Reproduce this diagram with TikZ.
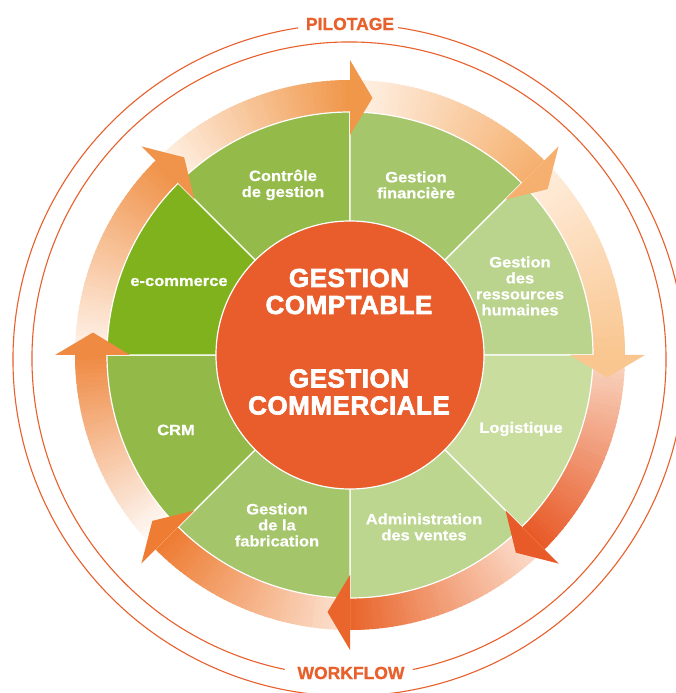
\documentclass[tikz,border=0pt]{standalone}
\usepackage{fontspec}
\setmainfont{Liberation Sans}
\newfontfamily\labfont{Liberation Sans}[FakeStretch=1.1,FakeBold=0.8]
\newfontfamily\bigfont{Liberation Sans}[FakeBold=2.5,LetterSpace=2]
\newfontfamily\titfont{Liberation Sans}[FakeBold=1]
\definecolor{ringc}{HTML}{E8602C}
\definecolor{cContr}{HTML}{94BA4A}
\definecolor{cFin}{HTML}{A6C66C}
\definecolor{cGRH}{HTML}{BAD48E}
\definecolor{cLog}{HTML}{C9DD9E}
\definecolor{cAdm}{HTML}{BCD58F}
\definecolor{cFab}{HTML}{A5C56A}
\definecolor{cCRM}{HTML}{93BA48}
\definecolor{cEcom}{HTML}{80B21E}
\definecolor{cCentre}{HTML}{E95C2B}
\definecolor{hA}{HTML}{F0974A}\definecolor{tA}{HTML}{FFF3E8}
\definecolor{hB}{HTML}{F5B06F}\definecolor{tB}{HTML}{FFF3E8}
\definecolor{hC}{HTML}{F9C690}\definecolor{tC}{HTML}{FFEEDD}
\definecolor{hD}{HTML}{E85A28}\definecolor{tD}{HTML}{F9D6C2}
\definecolor{hE}{HTML}{E9652C}\definecolor{tE}{HTML}{FCE0CF}
\definecolor{hF}{HTML}{EE7C33}\definecolor{tF}{HTML}{FCE3D3}
\definecolor{hG}{HTML}{EF8A43}\definecolor{tG}{HTML}{FFFFFF}
\definecolor{hH}{HTML}{F0934B}\definecolor{tH}{HTML}{FFF4EC}
\tikzset{
  ring/.style={draw=ringc, line width=1.1pt},
  sector/.style={draw=white, line width=1.2pt},
  lab/.style={text=white, align=center, inner sep=0pt, font=\labfont\bfseries\fontsize{15}{16}\selectfont},
  big/.style={text=white, align=center, inner sep=0pt, font=\bigfont\bfseries\fontsize{26}{27}\selectfont},
  title/.style={text=ringc, inner sep=0pt, font=\titfont\bfseries\fontsize{17.5}{18}\selectfont}
}
\begin{document}
\begin{tikzpicture}[x=1pt,y=1pt]
\useasboundingbox (-350,-338) rectangle (326,355);
\fill[white] (-350,-338) rectangle (326,355);
\clip (-350,-338) rectangle (326,355);
% outer rings
\draw[ring] (-1,-5) ++(98.7:336) arc[start angle=98.7,end angle=441.6,radius=336];
\draw[ring] (-1,-4) ++(281.6:317) arc[start angle=281.6,end angle=618.3,radius=317];
% gradient bands
\foreach \h/\hc/\tc in {90/hA/tA,45/hB/tB,0/hC/tC,-45/hD/tD,-90/hE/tE,-135/hF/tF,180/hG/tG,135/hH/tH}{
  \foreach \k in {0,...,44}{
    \pgfmathsetmacro\a{\h+45-\k}
    \pgfmathsetmacro\b{\a-1.4}
    \pgfmathtruncatemacro\p{100*\k/44}
    \fill[\hc!\p!\tc] (\a:242) arc[start angle=\a,end angle=\b,radius=242] -- (\b:275) arc[start angle=\b,end angle=\a,radius=275] -- cycle;
  }
}
% sectors
\foreach \s/\c in {90/cContr,45/cFin,0/cGRH,-45/cLog,-90/cAdm,-135/cFab,180/cCRM,135/cEcom}{
  \filldraw[sector, fill=\c] (0,0) -- (\s:243) arc[start angle=\s,end angle=\s+45,radius=243] -- cycle;
}
% arrow heads
\foreach \h/\hc in {90/hA,45/hB,0/hC,-45/hD,-90/hE,-135/hF,180/hG,135/hH}{
  \fill[\hc] (\h:220) -- (\h-5:258) -- (\h:295) -- cycle;
}
% centre
\node[circle, fill=cCentre, draw=white, line width=1.2pt, minimum size=268pt, inner sep=0pt] (centre) at (0,0) {};
\node[big] (compta) at (-1,63.5) {GESTION\\COMPTABLE};
\node[big] (commer) at (-1,-37) {GESTION\\COMMERCIALE};
% labels
\node[lab] (controle) at (-67,170) {Contrôle\\de gestion};
\node[lab] (finance) at (66,170) {Gestion\\financière};
\node[lab] (grh) at (170,69) {Gestion\\des\\ressources\\humaines};
\node[lab] (logist) at (171,-74) {Logistique};
\node[lab] (admin) at (74,-172) {Administration\\des ventes};
\node[lab] (fabric) at (-73,-170) {Gestion\\de la\\fabrication};
\node[lab] (crm) at (-174,-75) {CRM};
\node[lab] (ecom) at (-171,73) {e-commerce};
\node[title] (pilot) at (0,331) {PILOTAGE};
\node[title] (workf) at (1,-318) {WORKFLOW};
\end{tikzpicture}
\end{document}
